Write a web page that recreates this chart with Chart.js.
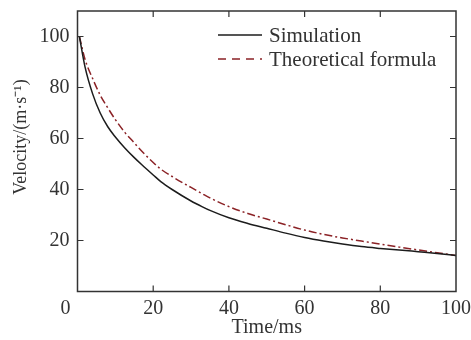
<!DOCTYPE html>
<html>
<head>
<meta charset="utf-8">
<script src="https://cdn.jsdelivr.net/npm/chart.js@4"></script>
<style>
  html, body { margin: 0; padding: 0; background: #fff; }
  #wrap { width: 471px; height: 340px; }
</style>
</head>
<body>
<div id="wrap"><canvas id="velocityChart" width="471" height="340"></canvas></div>
<script>
// time (ms) and velocity values
const timeMs = [0.5, 2, 4, 6, 8, 10, 12.5, 15, 17, 20, 22, 25, 30, 33, 35, 40, 45, 50, 55, 60, 65, 70, 75, 80, 85, 90, 95, 100];
const simulation = [100, 88, 77.5, 70, 64.6, 60.6, 56.3, 52.5, 49.7, 45.7, 43.1, 40, 35.5, 33.2, 31.8, 28.9, 26.7, 24.8, 22.9, 21.2, 19.8, 18.6, 17.6, 16.9, 16.3, 15.6, 14.9, 14.1];
const theoretical = [100, 91, 83.5, 77, 72, 67.4, 62.4, 58.3, 55, 50.6, 48, 45.1, 40.8, 38.3, 36.7, 33.3, 30.6, 28.4, 26.2, 24.1, 22.4, 21.0, 19.8, 18.6, 17.4, 16.3, 15.2, 14.1];
const seriesLabels = ['Simulation', 'Theoretical formula'];
const xTicks = [0, 20, 40, 60, 80, 100];
const yTicks = [20, 40, 60, 80, 100];

const FONT = "'Liberation Serif', 'Times New Roman', serif";
const TEXT = '#333';
const AXIS = '#333';
const TICK_SIZE = 20;
const X_PAD = 5;

function toPoints(ys) {
    return timeMs.map((t, i) => ({ x: t, y: ys[i] }));
}

// box, inward ticks, custom legend and y title
const framePlugin = {
    id: 'frame',
    afterDraw(chart) {
        const ctx = chart.ctx;
        const area = chart.chartArea;
        const xs = chart.scales.x;
        const ys = chart.scales.y;
        const tl = 6;

        ctx.save();
        ctx.strokeStyle = AXIS;
        ctx.lineWidth = 1.5;
        ctx.strokeRect(area.left, area.top, area.right - area.left, area.bottom - area.top);

        ctx.lineWidth = 1.2;
        ctx.beginPath();
        xTicks.forEach(v => {
            if (v === 0 || v === 100) return;
            const px = xs.getPixelForValue(v);
            ctx.moveTo(px, area.bottom);
            ctx.lineTo(px, area.bottom - tl);
            ctx.moveTo(px, area.top);
            ctx.lineTo(px, area.top + tl);
        });
        yTicks.forEach(v => {
            const py = ys.getPixelForValue(v);
            ctx.moveTo(area.left, py);
            ctx.lineTo(area.left + tl, py);
            ctx.moveTo(area.right, py);
            ctx.lineTo(area.right - tl, py);
        });
        ctx.stroke();

        // "0" label sits left of the origin in the original
        ctx.fillStyle = TEXT;
        ctx.font = TICK_SIZE + 'px ' + FONT;
        ctx.textAlign = 'center';
        ctx.textBaseline = 'middle';
        ctx.fillText('0', area.left - 12, area.bottom + X_PAD + TICK_SIZE * 0.6);

        // legend
        const rows = [
            { y: 35, color: chart.data.datasets[0].borderColor, dash: [] },
            { y: 59, color: chart.data.datasets[1].borderColor, dash: [8, 6] }
        ];
        ctx.font = '21px ' + FONT;
        rows.forEach((r, i) => {
            ctx.beginPath();
            ctx.setLineDash(r.dash);
            ctx.strokeStyle = r.color;
            ctx.lineWidth = 1.3;
            ctx.moveTo(218, r.y);
            ctx.lineTo(262, r.y);
            ctx.stroke();
            ctx.setLineDash([]);
            ctx.fillStyle = TEXT;
            ctx.textAlign = 'left';
            ctx.textBaseline = 'middle';
            ctx.fillText(seriesLabels[i], 269, r.y + 1);
        });

        // y axis title
        ctx.font = '18px ' + FONT;
        ctx.translate(21, 137);
        ctx.rotate(-Math.PI / 2);
        ctx.textAlign = 'center';
        ctx.textBaseline = 'middle';
        ctx.fillText('Velocity/(m·s⁻¹)', 0, 0);
        ctx.restore();
    }
};

const ctx = document.getElementById('velocityChart').getContext('2d');
new Chart(ctx, {
    type: 'line',
    data: {
        datasets: [
            {
                label: seriesLabels[0],
                data: toPoints(simulation),
                borderColor: '#1c1c1c',
                borderWidth: 1.5,
                pointRadius: 0,
                cubicInterpolationMode: 'monotone',
                fill: false
            },
            {
                label: seriesLabels[1],
                data: toPoints(theoretical),
                borderColor: '#8b2226',
                borderWidth: 1.5,
                borderDash: [8, 3, 2, 3],
                pointRadius: 0,
                cubicInterpolationMode: 'monotone',
                fill: false
            }
        ]
    },
    options: {
        responsive: false,
        animation: false,
        layout: { padding: { top: 11, right: 15, left: 0, bottom: 0 } },
        plugins: {
            legend: { display: false },
            tooltip: { enabled: false }
        },
        scales: {
            x: {
                type: 'linear',
                min: 0,
                max: 100,
                grid: { display: false, drawTicks: false },
                border: { display: false },
                afterBuildTicks: scale => {
                    scale.ticks = xTicks.map(v => ({ value: v }));
                },
                afterFit: scale => {
                    scale.height = 48.5;
                    scale.paddingLeft = 0;
                    scale.paddingRight = 0;
                },
                ticks: {
                    maxRotation: 0,
                    padding: X_PAD,
                    color: TEXT,
                    font: { family: FONT, size: TICK_SIZE },
                    callback: v => (v === 0 ? '' : v)
                },
                title: {
                    display: true,
                    text: 'Time/ms',
                    color: TEXT,
                    font: { family: FONT, size: TICK_SIZE },
                    padding: { top: 0, bottom: 0 }
                }
            },
            y: {
                type: 'linear',
                min: 0,
                max: 110,
                grid: { display: false, drawTicks: false },
                border: { display: false },
                afterBuildTicks: scale => {
                    scale.ticks = yTicks.map(v => ({ value: v }));
                },
                afterFit: scale => {
                    scale.width = 77.5;
                    scale.paddingTop = 0;
                    scale.paddingBottom = 0;
                },
                ticks: {
                    padding: 8,
                    color: TEXT,
                    font: { family: FONT, size: TICK_SIZE }
                }
            }
        }
    },
    plugins: [framePlugin]
});
</script>
</body>
</html>
